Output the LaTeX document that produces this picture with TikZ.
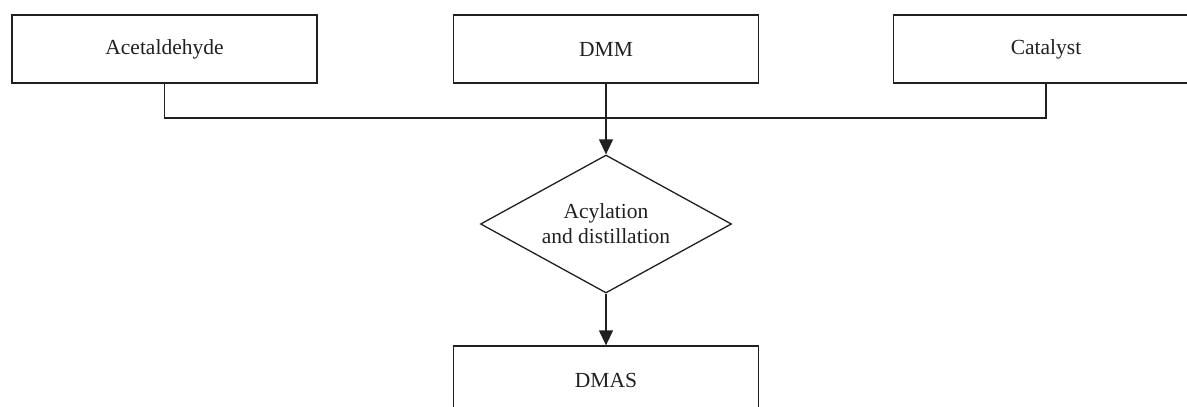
\documentclass[tikz,border=0pt]{standalone}
\usepackage{fontspec}
\setmainfont{Liberation Serif}
\usetikzlibrary{shapes.geometric,arrows.meta}
\definecolor{ink}{HTML}{231F20}
\begin{document}
\begin{tikzpicture}[x=1pt,y=-1pt,
  every node/.style={text=ink},
  txt/.style={font=\fontsize{21.5}{25}\selectfont},
  stagebox/.style={draw=ink, line width=1.3pt, minimum width=305pt,
    minimum height=68pt, inner sep=0pt, txt},
  decision/.style={draw=ink, diamond, aspect=1.82, line width=1.3pt,
    minimum width=251pt, minimum height=138pt, inner sep=0pt,
    align=center, txt},
  link/.style={draw=ink, line width=1.3pt},
  flow/.style={link, -{Triangle[length=15pt,width=14pt]}}
]
\useasboundingbox (0,0) rectangle (1187,407);
\clip (0,0) rectangle (1187,407);

% raw materials
\node[stagebox] (acet) at (164.5,49) {Acetaldehyde};
\node[stagebox] (dmm)  at (606,49)   {DMM};
\node[stagebox] (cat)  at (1046,49)  {Catalyst};

% process step and product
\node[decision] (acyl) at (606,224) {Acylation\\and distillation};
\node[stagebox] (dmas) at (606,380) {DMAS};

% feed lines merging into the process
\coordinate (join) at (606,118);
\draw[link] (acet.south) |- (join) -| (cat.south);
\draw[flow] (dmm.south) -- (acyl.north);
\draw[flow] (acyl.south) -- (dmas.north);
\end{tikzpicture}
\end{document}
